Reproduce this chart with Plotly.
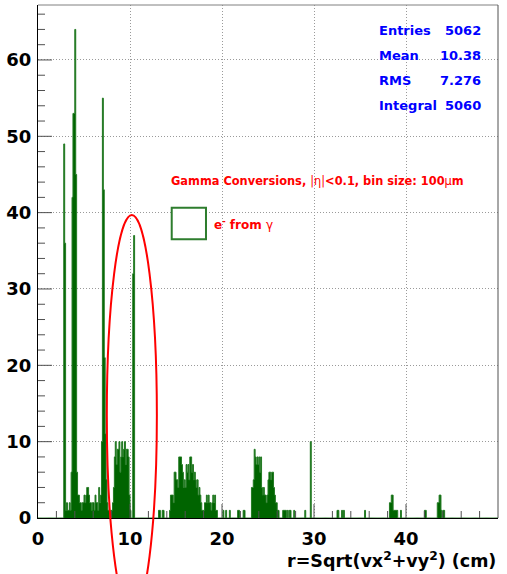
import numpy as np
import plotly.graph_objects as go

# ---------------------------------------------------------------------------
# Conversion-vertex radius histogram (non-empty 0.1 cm bins: lower edge, count)
# ---------------------------------------------------------------------------
inner_r = [2.8, 2.9, 3.0, 3.1, 3.2, 3.3, 3.4, 3.5, 3.6, 3.7,
           3.8, 3.9, 4.0, 4.1, 4.2, 4.3, 4.4, 4.5, 4.6, 4.7,
           4.8, 4.9, 5.0, 5.1, 5.2, 5.3, 5.4, 5.5, 5.6, 5.7,
           5.8, 5.9, 6.0, 6.1, 6.2, 6.3, 6.4, 6.5, 6.6, 6.7,
           6.8, 6.9, 7.0, 7.1, 7.2, 7.3, 7.4, 7.5, 7.6, 7.7,
           7.9, 8.0, 8.1,
           8.2, 8.3, 8.4, 8.5, 8.6, 8.7, 8.8, 8.9, 9.0, 9.1,
           9.2, 9.3, 9.4, 9.5, 9.6, 9.7, 9.8, 9.9, 10.0,
           10.3, 10.4]
inner_n = [49, 36, 1, 2, 1, 1, 2, 1, 6, 42,
           53, 53, 64, 45, 6, 3, 3, 2, 2, 1,
           2, 2, 3, 2, 3, 4, 4, 3, 2, 2,
           1, 2, 2, 1, 3, 2, 2, 1, 4, 2,
           3, 10, 55, 43, 21, 11, 5, 2, 1, 1,
           1, 1, 2,
           4, 8, 10, 7, 9, 9, 10, 6, 8, 10,
           8, 9, 10, 7, 9, 9, 8, 3, 1,
           32, 37]

mid_r = [13.1, 13.2, 13.5, 13.6, 14.3, 14.4, 14.5, 14.6, 14.7, 14.8,
         14.9, 15.0, 15.1, 15.2, 15.3, 15.4, 15.5, 15.6, 15.7, 15.8,
         15.9, 16.0, 16.1, 16.2, 16.3, 16.4, 16.5, 16.6, 16.7, 16.8,
         16.9, 17.0, 17.1, 17.2, 17.3, 17.4, 17.5, 17.6, 17.7, 17.8,
         17.9, 18.0, 18.1, 18.2, 18.3, 18.4, 18.5, 18.6, 18.7, 18.8,
         18.9, 19.0, 19.1, 19.2, 19.3, 19.4, 20.1, 20.4, 20.8, 21.7,
         21.8, 22.3, 22.4]
mid_n = [1, 1, 1, 1, 1, 3, 3, 3, 2, 6,
         6, 5, 5, 4, 8, 8, 8, 7, 6, 4,
         5, 4, 7, 6, 7, 5, 8, 8, 6, 7,
         5, 6, 5, 4, 5, 3, 4, 3, 2, 1,
         1, 1, 2, 2, 3, 2, 3, 2, 2, 1,
         2, 3, 2, 3, 1, 1, 1, 1, 1, 1,
         1, 1, 1]

outer_r = [23.2, 23.3, 23.4, 23.5, 23.6, 23.7, 23.8, 23.9, 24.0, 24.1,
           24.2, 24.3, 24.4, 24.5, 24.6, 24.7, 24.8, 24.9, 25.0, 25.1,
           25.2, 25.3, 25.4, 25.5, 25.6, 25.7, 25.8, 25.9, 26.0, 26.1,
           26.6, 26.7, 26.8, 26.9, 27.1, 27.3, 27.4, 27.8, 29.0, 29.6,
           32.5, 32.6, 33.0, 33.2, 35.5, 38.2, 38.3, 38.4, 38.5, 38.6,
           38.7, 38.8, 38.9, 39.0, 39.4, 42.0, 42.1, 43.4, 43.5, 43.6,
           43.7, 43.8, 44.0, 44.1]
outer_n = [4, 4, 5, 9, 8, 7, 8, 7, 8, 6,
           8, 4, 3, 4, 3, 3, 2, 3, 5, 6,
           6, 5, 6, 6, 4, 3, 2, 2, 1, 1,
           1, 1, 1, 1, 1, 1, 1, 1, 1, 10,
           1, 1, 1, 1, 1, 2, 2, 3, 3, 1,
           1, 1, 1, 1, 1, 1, 1, 2, 2, 3,
           3, 1, 1, 1]

stat_names = ["Entries", "Mean", "RMS", "Integral"]
stat_values = ["5062", "10.38", "7.276", "5060"]

x_tick_step = 10
y_tick_step = 10
minor_step = 2

BIN = 0.1
R_MAX = 50.0
Y_MAX = 67.2

FONT = "DejaVu Sans"
GREEN_FILL = "#006400"
GREEN_LINE = "#237a23"
TICK_COLOR = "#505050"

# plot-area size in pixels (figure size minus margins), used for tick lengths
PLOT_W, PLOT_H = 507 - 38 - 9, 574 - 5 - 56
MAJOR_LEN, MINOR_LEN = 14, 7

# Full binned content over 0-50 cm
n_bins = int(round(R_MAX / BIN))
edges = np.round(np.arange(n_bins) * BIN, 2)
hist = np.zeros(n_bins)
for rs, ns in ((inner_r, inner_n), (mid_r, mid_n), (outer_r, outer_n)):
    for r, n in zip(rs, ns):
        hist[int(round(r / BIN))] = n

x_step = np.append(edges, R_MAX)
y_step = np.append(hist, 0.0)

fig = go.Figure()
fig.add_trace(go.Scatter(
    x=x_step, y=y_step, mode="lines",
    line=dict(shape="hv", color=GREEN_LINE, width=1),
    fill="tozeroy", fillcolor=GREEN_FILL,
    hoverinfo="skip", showlegend=False,
))

# inward-pointing tick marks drawn as one segmented line (major every 10, minor every 2)
tick_x, tick_y = [], []
for xv in np.arange(minor_step, R_MAX, minor_step):
    length = MAJOR_LEN if np.isclose(xv % x_tick_step, 0) else MINOR_LEN
    tick_x += [xv, xv, None]
    tick_y += [0, length / PLOT_H * Y_MAX, None]
for yv in np.arange(minor_step, Y_MAX, minor_step):
    length = MAJOR_LEN if np.isclose(yv % y_tick_step, 0) else MINOR_LEN
    tick_x += [0, length / PLOT_W * R_MAX, None]
    tick_y += [yv, yv, None]
fig.add_trace(go.Scatter(
    x=tick_x, y=tick_y, mode="lines", line=dict(color=TICK_COLOR, width=1),
    hoverinfo="skip", showlegend=False, cliponaxis=False,
))

axis_common = dict(
    tickmode="linear", tick0=0, ticks="",
    showgrid=True, gridcolor="#9a9a9a", griddash="1px,2px", gridwidth=1,
    showline=True, linecolor="black", linewidth=1, zeroline=False,
    tickfont=dict(family=FONT, size=18, color="black", weight="bold"),
)
fig.update_xaxes(range=[0, R_MAX], dtick=x_tick_step, ticklabelstandoff=4, **axis_common)
fig.update_yaxes(range=[0, Y_MAX], dtick=y_tick_step, ticklabelstandoff=2, **axis_common)

shapes = []
# frame on the top and right
shapes.append(dict(type="line", xref="paper", yref="paper", x0=0, x1=1, y0=1, y1=1,
                   line=dict(color="#808080", width=1), layer="above"))
shapes.append(dict(type="line", xref="paper", yref="paper", x0=1, x1=1, y0=0, y1=1,
                   line=dict(color="#505050", width=1), layer="above"))
# stats pave (white background)
shapes.append(dict(type="rect", xref="paper", yref="paper", x0=0.728, x1=0.978,
                   y0=0.776, y1=0.984, fillcolor="white", line=dict(width=0),
                   layer="between"))
# legend pave
shapes.append(dict(type="rect", xref="paper", yref="paper", x0=0.276, x1=0.693,
                   y0=0.522, y1=0.630, fillcolor="white", line=dict(width=0),
                   layer="between"))
shapes.append(dict(type="rect", xref="paper", yref="paper", x0=0.2907, x1=0.3652,
                   y0=0.5433, y1=0.6049, fillcolor="white",
                   line=dict(color="#2e7d2e", width=2), layer="above"))

# red ellipse marking the region around r ~ 10 cm (data units -> paper units)
ell_r_center, ell_r_half = 10.2, 2.72
ell_n_top, ell_n_bottom = 39.7, -12.7
shapes.append(dict(type="circle", xref="paper", yref="paper",
                   x0=(ell_r_center - ell_r_half) / R_MAX,
                   x1=(ell_r_center + ell_r_half) / R_MAX,
                   y0=ell_n_bottom / Y_MAX, y1=ell_n_top / Y_MAX,
                   line=dict(color="#ff0000", width=2), layer="above"))

annotations = []
stat_rows_y = [0.951, 0.9025, 0.8538, 0.805]
for name, val, yy in zip(stat_names, stat_values, stat_rows_y):
    annotations.append(dict(xref="paper", yref="paper", x=0.736, y=yy, text=name,
                            xanchor="left", yanchor="middle", showarrow=False,
                            font=dict(family=FONT, size=13, color="#0000ff", weight="bold")))
    annotations.append(dict(xref="paper", yref="paper", x=0.967, y=yy, text=val,
                            xanchor="right", yanchor="middle", showarrow=False,
                            font=dict(family=FONT, size=13, color="#0000ff", weight="bold")))

annotations.append(dict(
    xref="paper", yref="paper", x=0.285, y=0.657, xanchor="left", yanchor="middle",
    showarrow=False,
    text="Gamma Conversions, <span style='font-weight:normal'>|η|</span>&lt;0.1, "
         "bin size: 100<span style='font-weight:normal'>μ</span>m",
    font=dict(family=FONT, size=11.4, color="#ff0000", weight="bold")))
annotations.append(dict(
    xref="paper", yref="paper", x=0.378, y=0.573, xanchor="left", yanchor="middle",
    showarrow=False,
    text="e<sup>-</sup> from <span style='font-weight:normal'>γ</span>",
    font=dict(family=FONT, size=12, color="#ff0000", weight="bold")))
annotations.append(dict(
    xref="paper", yref="paper", x=1.0, y=-0.0819, xanchor="right", yanchor="middle",
    showarrow=False,
    text="r=Sqrt(vx<sup>2</sup>+vy<sup>2</sup>) (cm)",
    font=dict(family=FONT, size=17.5, color="black", weight="bold")))

fig.update_layout(
    width=507, height=574,
    margin=dict(l=38, r=9, t=5, b=56),
    paper_bgcolor="white", plot_bgcolor="white",
    showlegend=False,
    shapes=shapes, annotations=annotations,
)

fig.write_html("out.html")
